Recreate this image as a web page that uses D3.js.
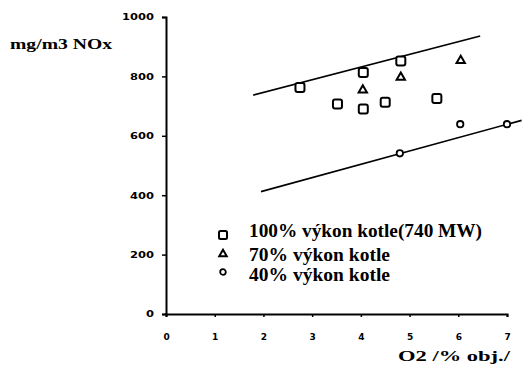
<!DOCTYPE html>
<html>
<head>
<meta charset="utf-8">
<script src="https://cdn.jsdelivr.net/npm/d3@7"></script>
<style>
body { margin: 0; background: #fff; }
.tick text { font-family: "DejaVu Sans", sans-serif; font-weight: bold; font-size: 9px; }
.lbl { font-family: "Liberation Serif", serif; font-weight: bold; }
</style>
</head>
<body>
<div id="chart"></div>
<script>
// data
var squares = [[2.75, 763], [3.52, 707], [4.05, 813], [4.05, 690], [4.50, 713], [4.82, 852], [5.56, 726]];
var triangles = [[4.04, 754], [4.82, 797], [6.05, 853]];
var circles = [[4.80, 541], [6.04, 639], [7.0, 639]];
var upperLine = [[1.79, 737], [6.45, 936]];
var lowerLine = [[1.95, 412], [7.3, 652]];
var xTicks = [0, 1, 2, 3, 4, 5, 6, 7];
var yTicks = [0, 200, 400, 600, 800, 1000];
var legendNames = ["100% výkon kotle(740 MW)", "70% výkon kotle", "40% výkon kotle"];

var svgWidth = 528;
var svgHeight = 372;
var margin = {top: 17, right: 21, bottom: 58, left: 166};
var width = svgWidth - margin.left - margin.right;
var height = svgHeight - margin.top - margin.bottom;

var svg = d3.select("#chart")
  .append("svg")
  .attr("width", svgWidth)
  .attr("height", svgHeight);

var chartGroup = svg.append("g")
  .attr("transform", `translate(${margin.left}, ${margin.top})`);

var xScale = d3.scaleLinear().domain([0, 7]).range([0, width]);
var yScale = d3.scaleLinear().domain([0, 1000]).range([height, 0]);

// axes
var bottomAxis = d3.axisBottom(xScale).tickValues(xTicks).tickSize(3).tickPadding(17).tickFormat(d3.format("d"));
var leftAxis = d3.axisLeft(yScale).tickValues(yTicks).tickSize(4).tickPadding(8).tickFormat(d3.format("d"));

var xg = chartGroup.append("g")
  .attr("transform", `translate(0, ${height})`)
  .call(bottomAxis);
var yg = chartGroup.append("g").call(leftAxis);

[xg, yg].forEach(function(g) {
  g.select(".domain").attr("stroke", "#000").attr("stroke-width", 2);
  g.selectAll(".tick line").attr("stroke", "#000").attr("stroke-width", 1.5);
  g.selectAll(".tick text").attr("fill", "#000");
});
// the scanned tick labels are wide and squat
yg.selectAll(".tick text")
  .attr("textLength", d => String(d).length * 8)
  .attr("lengthAdjust", "spacingAndGlyphs");

// trend lines
var line = d3.line().x(d => xScale(d[0])).y(d => yScale(d[1]));
[upperLine, lowerLine].forEach(function(l) {
  chartGroup.append("path")
    .attr("d", line(l))
    .attr("fill", "none")
    .attr("stroke", "#000")
    .attr("stroke-width", 1.6);
});

// markers
chartGroup.selectAll(".sq")
  .data(squares)
  .enter()
  .append("rect")
  .attr("x", d => xScale(d[0]) - 4.5)
  .attr("y", d => yScale(d[1]) - 4.5)
  .attr("width", 9)
  .attr("height", 9)
  .attr("rx", 2)
  .attr("fill", "#fff")
  .attr("stroke", "#000")
  .attr("stroke-width", 2);

var tri = d3.symbol().type(d3.symbolTriangle).size(30);
chartGroup.selectAll(".tri")
  .data(triangles)
  .enter()
  .append("path")
  .attr("d", tri)
  .attr("transform", d => `translate(${xScale(d[0])}, ${yScale(d[1])})`)
  .attr("fill", "#fff")
  .attr("stroke", "#000")
  .attr("stroke-width", 2);

chartGroup.selectAll(".circ")
  .data(circles)
  .enter()
  .append("circle")
  .attr("cx", d => xScale(d[0]))
  .attr("cy", d => yScale(d[1]))
  .attr("r", 3.2)
  .attr("fill", "#fff")
  .attr("stroke", "#000")
  .attr("stroke-width", 1.8);

// legend
var legend = svg.append("g").attr("transform", "translate(223, 235)");
legend.append("rect").attr("x", -4).attr("y", -4).attr("width", 8).attr("height", 8).attr("rx", 1.5)
  .attr("fill", "#fff").attr("stroke", "#000").attr("stroke-width", 2);
legend.append("path").attr("d", d3.symbol().type(d3.symbolTriangle).size(24))
  .attr("transform", "translate(0, 19)")
  .attr("fill", "#fff").attr("stroke", "#000").attr("stroke-width", 2);
legend.append("circle").attr("cx", 0).attr("cy", 37).attr("r", 2.8)
  .attr("fill", "#fff").attr("stroke", "#000").attr("stroke-width", 1.8);

legend.selectAll(".lt")
  .data(legendNames)
  .enter()
  .append("text")
  .attr("class", "lbl")
  .attr("x", 26)
  .attr("y", (d, i) => [2, 25.5, 46][i])
  .attr("font-size", "18px")
  .attr("textLength", (d, i) => [233, 141, 141][i])
  .attr("lengthAdjust", "spacingAndGlyphs")
  .text(d => d);

// axis titles
svg.append("text").attr("class", "lbl").attr("x", 10).attr("y", 49)
  .attr("font-size", "15px").attr("textLength", 102).attr("lengthAdjust", "spacingAndGlyphs")
  .text("mg/m3 NOx");
svg.append("text").attr("class", "lbl").attr("x", 398).attr("y", 361)
  .attr("font-size", "15px").attr("textLength", 112).attr("lengthAdjust", "spacingAndGlyphs")
  .text("O2 /% obj./");
</script>
</body>
</html>
